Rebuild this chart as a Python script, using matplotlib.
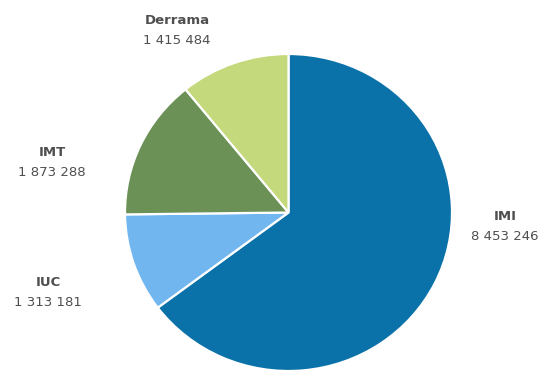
import matplotlib
matplotlib.use("Agg")
import matplotlib.pyplot as plt

W, H = 541, 372

categories = ["IMI", "IUC", "IMT", "Derrama"]
values = [8453246, 1313181, 1873288, 1415484]
colors = ["#0b71a9", "#72b6ef", "#6c9157", "#c4d87c"]

# label anchor positions in pixels (x, y from top)
label_pos = {
    "IMI": (505, 216),
    "IUC": (48, 282),
    "IMT": (52, 152),
    "Derrama": (177, 21),
}


def fmt(v):
    return f"{v:,}".replace(",", " ")


fig = plt.figure(figsize=(W / 100, H / 100), dpi=100)
fig.patch.set_facecolor("white")

# pie spans x 125..452, y 54..371 in pixel space
left, right, top, bottom = 125, 452, 54, 371
ax = fig.add_axes([left / W, (H - bottom) / H, (right - left) / W, (bottom - top) / H])
ax.pie(values, colors=colors, startangle=90, counterclock=False,
       wedgeprops=dict(edgecolor="white", linewidth=1.6))
ax.set_aspect("auto")
ax.set_xlim(-1, 1)
ax.set_ylim(-1, 1)
ax.axis("off")

for name, v in zip(categories, values):
    x, y = label_pos[name]
    fig.text(x / W, 1 - y / H, name, ha="center", va="center",
             fontsize=9.5, fontweight="bold", color="#4f4f4f", family="DejaVu Sans")
    fig.text(x / W, 1 - (y + 20) / H, fmt(v), ha="center", va="center",
             fontsize=9.5, color="#4f4f4f", family="DejaVu Sans")

fig.savefig("out.png", dpi=100)
